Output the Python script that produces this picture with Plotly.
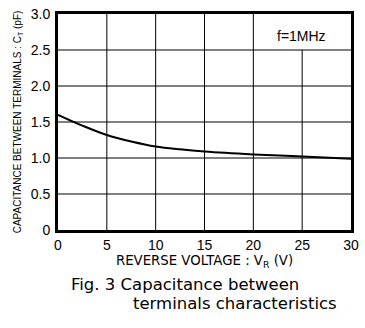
import plotly.graph_objects as go

# Data
voltage = [0, 2.5, 5, 7.5, 10, 12.5, 15, 20, 25, 30]
capacitance = [1.60, 1.45, 1.32, 1.23, 1.16, 1.12, 1.09, 1.05, 1.02, 0.99]

x_ticks = [0, 5, 10, 15, 20, 25, 30]
y_ticks = [0, 0.5, 1.0, 1.5, 2.0, 2.5, 3.0]
y_tick_labels = ["0", "0.5", "1.0", "1.5", "2.0", "2.5", "3.0"]

FONT = "Liberation Sans, Arial, sans-serif"
WIDE = "DejaVu Sans, Verdana, sans-serif"

fig = go.Figure()
fig.add_trace(go.Scatter(x=voltage, y=capacitance, mode="lines",
                         line=dict(color="black", width=2, shape="spline"),
                         showlegend=False, hoverinfo="skip"))

shapes = []
# vertical grid lines (the x=25 line stops below the f=1MHz label box)
for xv in x_ticks[1:-1]:
    top = 2.5 if xv == 25 else 3.0
    shapes.append(dict(type="line", xref="x", yref="y", x0=xv, x1=xv, y0=0, y1=top,
                       line=dict(color="black", width=1), layer="below"))
for yv in y_ticks[1:-1]:
    shapes.append(dict(type="line", xref="x", yref="y", x0=0, x1=30, y0=yv, y1=yv,
                       line=dict(color="black", width=1), layer="below"))

fig.update_layout(
    width=365, height=328,
    margin=dict(l=58, r=12, t=6, b=98),
    paper_bgcolor="white", plot_bgcolor="white",
    font=dict(family=FONT, color="black", size=13),
    shapes=shapes,
    xaxis=dict(range=[0, 30], tickvals=x_ticks, ticks="", showgrid=False, zeroline=False,
               showline=True, linecolor="black", linewidth=3, mirror=True,
               tickfont=dict(size=14), ticklabelstandoff=0,
               title=dict(text="REVERSE VOLTAGE : V<sub>R</sub> (V)",
                          font=dict(size=13.3, family=WIDE), standoff=1)),
    yaxis=dict(range=[0, 3], tickvals=y_ticks, ticktext=y_tick_labels, ticks="",
               showgrid=False, zeroline=False,
               showline=True, linecolor="black", linewidth=3, mirror=True,
               tickfont=dict(size=14), ticklabelstandoff=2,
               title=dict(text="CAPACITANCE BETWEEN TERMINALS : C<sub>T</sub> (pF)",
                          font=dict(size=10), standoff=8)),
    annotations=[
        dict(text="f=1MHz", x=24.9, y=2.70, xref="x", yref="y", showarrow=False,
             font=dict(size=14)),
        dict(text="Fig. 3 Capacitance between", x=69, y=286, xref="paper", yref="paper",
             showarrow=False, font=dict(size=16.5, family=WIDE), xanchor="left", yanchor="middle"),
        dict(text="terminals characteristics", x=131, y=306, xref="paper", yref="paper",
             showarrow=False, font=dict(size=16.5, family=WIDE), xanchor="left", yanchor="middle"),
    ],
)

# convert caption pixel positions into paper coordinates
pw = 365 - 58 - 12
ph = 328 - 6 - 98
anns = list(fig.layout.annotations)
for a in anns[1:]:
    a.x = (a.x - 58) / pw
    a.y = (328 - 98 - a.y) / ph

fig.write_html("out.html")
